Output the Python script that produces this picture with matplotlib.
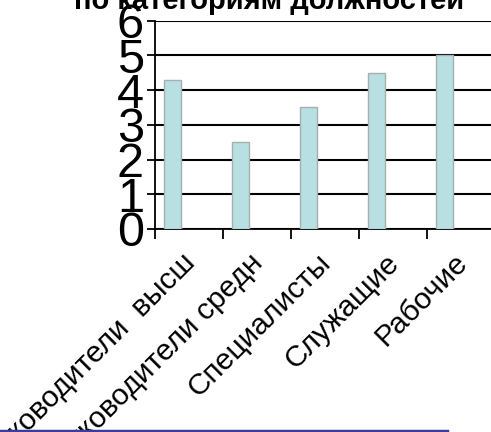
import matplotlib.pyplot as plt
import matplotlib.transforms as mtransforms
from matplotlib.lines import Line2D

plt.rcParams['font.family'] = ['Liberation Sans', 'DejaVu Sans']

categories = ['Руководители  высш', 'Руководители средн', 'Специалисты', 'Служащие', 'Рабочие']
values = [4.3, 2.5, 3.5, 4.5, 5.0]
y_ticks = [0, 1, 2, 3, 4, 5, 6]

fig = plt.figure(figsize=(4.91, 4.32), dpi=100)
# plot area runs slightly past the right edge, as in the slide
ax = fig.add_axes([155 / 491, 1 - 229 / 432, 340 / 491, (229 - 20.5) / 432])

pos = [i - 0.25 for i in range(len(values))]
ax.bar(pos, values, width=0.25, color='#b8e0e3', edgecolor='#a6aeae', linewidth=1, zorder=3)

ax.set_xlim(-0.5, len(categories) - 0.5)
ax.set_ylim(0, 6)
ax.set_yticks(y_ticks)
ax.set_yticklabels([str(v) for v in y_ticks], fontsize=35)
ax.tick_params(axis='y', length=6, width=1.3, pad=2, color='black')
ax.yaxis.grid(True, color='black', linewidth=1.5, zorder=1)
ax.set_axisbelow(True)

# category borders get the tick marks, labels sit at the centers
ax.set_xticks([i - 0.5 for i in range(len(categories))])
ax.set_xticklabels([])
ax.tick_params(axis='x', which='major', length=7, width=1.3, direction='out', color='black')
ax.set_xticks(range(len(categories)), minor=True)
ax.set_xticklabels(categories, minor=True, rotation=45, ha='right',
                   rotation_mode='anchor', fontsize=21.5)
ax.tick_params(axis='x', which='minor', length=0, pad=14)
shift = mtransforms.ScaledTranslation(-8 / 100, 0, fig.dpi_scale_trans)
for lab in ax.get_xticklabels(minor=True):
    lab.set_transform(lab.get_transform() + shift)

for s in ['top', 'right']:
    ax.spines[s].set_visible(False)
ax.spines['left'].set_linewidth(1.3)
ax.spines['bottom'].set_linewidth(1.3)

fig.text(0.549, 1 - 9 / 432, 'по категориям должностей', ha='center', va='baseline',
         fontsize=21, fontweight='bold')

fig.add_artist(Line2D([0, 447 / 491], [1 - 431 / 432, 1 - 431 / 432],
                      color='#3c3c9c', linewidth=2.5, transform=fig.transFigure))

fig.savefig('out.png', dpi=100)
